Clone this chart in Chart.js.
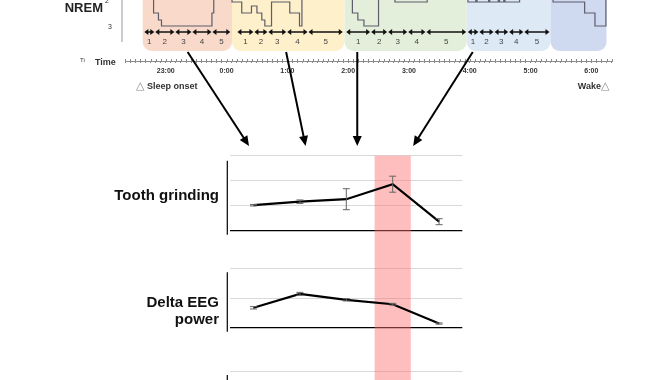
<!DOCTYPE html>
<html>
<head>
<meta charset="utf-8">
<script src="https://cdn.jsdelivr.net/npm/chart.js@4.4.1/dist/chart.umd.min.js"></script>
<style>
  html, body { margin: 0; padding: 0; background: #fff; }
  body { width: 670px; height: 380px; overflow: hidden; position: relative; }
  canvas { position: absolute; left: 0; }
</style>
</head>
<body>
<canvas id="hypno" width="670" height="150" style="top:0px"></canvas>
<canvas id="grind" width="670" height="100" style="top:150px"></canvas>
<canvas id="delta" width="670" height="110" style="top:250px"></canvas>
<canvas id="third" width="670" height="100" style="top:360px"></canvas>
<script>
// values per NREM cycle (bottom panels)
var cycles = ['1', '2', '3', '4', '5']
var grinding = [1.02, 1.16, 1.26, 1.86, 0.36]
var grindingErr = [0.03, 0.07, 0.42, 0.32, 0.12]
var deltaPower = [0.67, 1.14, 0.94, 0.79, 0.14]
var deltaPowerErr = [0.04, 0.05, 0.04, 0.03, 0.02]
var highlight = '4'

// time axis, hours (24 = 0:00)
var hourTicks = [23, 24, 25, 26, 27, 28, 29, 30]
var hourLabels = ['23:00', '0:00', '1:00', '2:00', '3:00', '4:00', '5:00', '6:00']

// hypnogram: stage changes (time in hours, stage level)
var hypnoTime = [22.62, 22.80, 22.88, 22.93, 23.76, 23.79, 24.09, 24.25, 24.41, 24.50, 24.58, 24.63,
  24.74, 25.04, 25.20, 25.24, 26.07, 26.16, 26.26, 26.50, 26.77, 27.30, 27.97, 28.10,
  28.12, 28.31, 28.33, 28.47, 28.49, 28.56, 28.58, 28.82, 29.37, 29.89, 30.06, 30.24]
var hypnoStage = [1.7, 2.48, 2.76, 3.0, 2.48, 1.7, 2.04, 2.48, 2.2, 2.48, 2.76, 3.0,
  2.04, 2.48, 3.0, 1.7, 2.48, 2.76, 3.0, 1.7, 2.04, 1.7, 2.04, 1.8,
  2.04, 1.8, 2.04, 1.8, 2.04, 1.8, 2.04, 1.7, 2.04, 2.48, 3.0, 1.7]

// sleep cycles and their five sub-periods
var cycleStart = [22.62, 24.09, 25.94, 27.95, 29.33]
var cycleEnd = [24.09, 25.94, 27.95, 29.33, 30.25]
var cycleColors = ['rgb(248,217,202)', 'rgb(254,240,203)', 'rgb(227,239,218)', 'rgb(222,233,246)', 'rgb(207,218,240)']
var segments = [
  [22.64, 22.82, 23.15, 23.43, 23.76, 24.07],
  [24.17, 24.45, 24.68, 24.99, 25.34, 25.92],
  [25.96, 26.37, 26.65, 26.98, 27.28, 27.95],
  [27.96, 28.15, 28.40, 28.64, 28.89, 29.32]
]
var pointerFrom = [23.36, 24.98, 26.15, 28.05]
var pointerTo = [24.37, 25.30, 26.15, 27.07]

var FONT = '"Liberation Sans", Arial, sans-serif'

function rounded(ctx, x, y, w, h, r) {
  ctx.beginPath()
  ctx.moveTo(x + r, y)
  ctx.arcTo(x + w, y, x + w, y + h, r)
  ctx.arcTo(x + w, y + h, x, y + h, r)
  ctx.arcTo(x, y + h, x, y, r)
  ctx.arcTo(x, y, x + w, y, r)
  ctx.closePath()
}

function dblArrow(ctx, x1, x2, yy) {
  var L = 4, W = 3
  ctx.beginPath()
  ctx.moveTo(x1 + 2, yy)
  ctx.lineTo(x2 - 2, yy)
  ctx.stroke()
  ctx.beginPath()
  ctx.moveTo(x1, yy); ctx.lineTo(x1 + L, yy - W); ctx.lineTo(x1 + L, yy + W); ctx.closePath()
  ctx.moveTo(x2, yy); ctx.lineTo(x2 - L, yy - W); ctx.lineTo(x2 - L, yy + W); ctx.closePath()
  ctx.fill()
}

function pointer(ctx, x1, y1, x2, y2) {
  var a = Math.atan2(y2 - y1, x2 - x1), L = 10, W = 4.5
  var c = Math.cos(a), s = Math.sin(a)
  ctx.beginPath()
  ctx.moveTo(x1, y1)
  ctx.lineTo(x2 - L * 0.8 * c, y2 - L * 0.8 * s)
  ctx.stroke()
  ctx.beginPath()
  ctx.moveTo(x2, y2)
  ctx.lineTo(x2 - L * c + W * s, y2 - L * s - W * c)
  ctx.lineTo(x2 - L * c - W * s, y2 - L * s + W * c)
  ctx.closePath()
  ctx.fill()
}

var hypnoDecor = {
  id: 'hypnoDecor',
  beforeDatasetsDraw: function (chart) {
    var ctx = chart.ctx, x = chart.scales.x, y = chart.scales.y
    var bottom = y.getPixelForValue(3) + 25
    ctx.save()
    cycleStart.forEach(function (s, i) {
      var l = x.getPixelForValue(s), r = x.getPixelForValue(cycleEnd[i])
      ctx.fillStyle = cycleColors[i]
      rounded(ctx, l, -20, r - l, bottom + 20, 9)
      ctx.fill()
    })
    ctx.restore()
  },
  afterDraw: function (chart) {
    var ctx = chart.ctx, x = chart.scales.x, y = chart.scales.y, area = chart.chartArea
    var y3 = y.getPixelForValue(3)
    ctx.save()

    // sub-period arrows and numbers
    ctx.strokeStyle = '#111'
    ctx.fillStyle = '#111'
    ctx.lineWidth = 1.5
    segments.forEach(function (b) {
      for (var k = 0; k < 5; k++) {
        var a1 = x.getPixelForValue(b[k]), a2 = x.getPixelForValue(b[k + 1])
        dblArrow(ctx, a1 + 0.5, a2 - 0.5, y3 + 6)
      }
    })
    ctx.fillStyle = '#444'
    ctx.font = '8px ' + FONT
    ctx.textAlign = 'center'
    ctx.textBaseline = 'middle'
    segments.forEach(function (b) {
      for (var k = 0; k < 5; k++) {
        ctx.fillText(String(k + 1), (x.getPixelForValue(b[k]) + x.getPixelForValue(b[k + 1])) / 2, y3 + 16)
      }
    })

    // stage axis stub
    ctx.strokeStyle = '#999'
    ctx.lineWidth = 1
    ctx.beginPath()
    ctx.moveTo(area.left - 3, 0)
    ctx.lineTo(area.left - 3, y3 + 16)
    ctx.stroke()
    ctx.fillStyle = '#333'
    ctx.font = '7px ' + FONT
    ctx.fillText('3', 110, y3 + 1)
    ctx.fillText('2', 107, y.getPixelForValue(2))
    ctx.font = 'bold 13px ' + FONT
    ctx.textAlign = 'right'
    ctx.fillStyle = '#222'
    ctx.fillText('NREM', 103, 8)

    // minor tick marks above the time axis
    ctx.strokeStyle = '#8a8a8a'
    ctx.beginPath()
    x.ticks.forEach(function (t) {
      var px = Math.round(x.getPixelForValue(t.value)) + 0.5
      ctx.moveTo(px, area.bottom - 2)
      ctx.lineTo(px, area.bottom)
    })
    ctx.stroke()

    ctx.fillStyle = '#333'
    ctx.textAlign = 'left'
    ctx.font = '6px ' + FONT
    ctx.fillText('Ti', 80, area.bottom - 1)
    ctx.font = 'bold 9px ' + FONT
    ctx.fillText('Time', 95, area.bottom + 2)

    // sleep onset / wake
    var ty = area.bottom + 25
    ctx.fillStyle = '#888'
    ctx.font = '11px "DejaVu Sans"'
    ctx.fillText('\u25B3', 136, ty)
    ctx.fillStyle = '#333'
    ctx.font = 'bold 9px ' + FONT
    ctx.fillText('Sleep onset', 147, ty + 1)
    ctx.textAlign = 'right'
    ctx.fillText('Wake', 601, ty + 1)
    ctx.fillStyle = '#888'
    ctx.font = '11px "DejaVu Sans"'
    ctx.textAlign = 'left'
    ctx.fillText('\u25B3', 601, ty)

    // pointers to the panels below
    ctx.strokeStyle = '#000'
    ctx.fillStyle = '#000'
    ctx.lineWidth = 2
    pointerFrom.forEach(function (h, i) {
      pointer(ctx, x.getPixelForValue(h), 52, x.getPixelForValue(pointerTo[i]), 146)
    })
    ctx.restore()
  }
}

new Chart(document.getElementById('hypno'), {
  type: 'line',
  data: {
    datasets: [{
      data: hypnoTime.map(function (t, i) { return { x: t, y: hypnoStage[i] } }),
      stepped: true,
      borderColor: '#5d5d6b',
      borderWidth: 1.2,
      pointRadius: 0,
      fill: false
    }]
  },
  options: {
    responsive: false,
    animation: false,
    devicePixelRatio: 1,
    layout: { padding: { left: 125, right: 58, top: 0, bottom: 75 } },
    plugins: { legend: { display: false }, tooltip: { enabled: false } },
    scales: {
      x: {
        type: 'linear',
        min: 22.33,
        max: 30.34,
        afterBuildTicks: function (axis) {
          var t = []
          for (var m = Math.ceil(axis.min * 12); m <= axis.max * 12; m++) t.push({ value: m / 12 })
          axis.ticks = t
        },
        afterFit: function (axis) { axis.height = 14 },
        ticks: {
          autoSkip: false,
          maxRotation: 0,
          minRotation: 0,
          padding: 4,
          color: '#333',
          font: { size: 7, weight: 'bold', family: 'Liberation Sans' },
          callback: function (v) {
            if (Math.abs(v - Math.round(v)) > 1e-6) return ''
            var i = hourTicks.indexOf(Math.round(v))
            return i >= 0 ? hourLabels[i] : ''
          }
        },
        grid: { drawOnChartArea: false, drawTicks: true, tickLength: 2, color: '#8a8a8a' },
        border: { color: '#8a8a8a', width: 1 }
      },
      y: { display: false, reverse: true, min: 1.96, max: 4.4 }
    }
  },
  plugins: [hypnoDecor]
})

// bottom panels
function panelDecor(values, errors, title, titleDy, bandFromTop, axisTop) {
  return {
    id: 'panelDecor',
    beforeDatasetsDraw: function (chart) {
      var ctx = chart.ctx, x = chart.scales.x, area = chart.chartArea
      var i = cycles.indexOf(highlight)
      var step = x.getPixelForValue(1) - x.getPixelForValue(0)
      var cx = x.getPixelForValue(i)
      ctx.save()
      ctx.fillStyle = 'rgba(255,110,110,0.45)'
      var top = bandFromTop ? 0 : area.top
      ctx.fillRect(cx - step * 0.39, top, step * 0.78, chart.height - top)
      ctx.restore()
    },
    afterDatasetsDraw: function (chart) {
      var ctx = chart.ctx, x = chart.scales.x, y = chart.scales.y, area = chart.chartArea
      ctx.save()
      ctx.strokeStyle = '#666'
      ctx.lineWidth = 1
      ctx.beginPath()
      values.forEach(function (v, i) {
        var px = x.getPixelForValue(i)
        var y1 = y.getPixelForValue(v + errors[i]), y2 = y.getPixelForValue(v - errors[i])
        ctx.moveTo(px, y1); ctx.lineTo(px, y2)
        ctx.moveTo(px - 3.5, y1); ctx.lineTo(px + 3.5, y1)
        ctx.moveTo(px - 3.5, y2); ctx.lineTo(px + 3.5, y2)
      })
      ctx.stroke()

      ctx.strokeStyle = '#000'
      ctx.lineWidth = 1.2
      ctx.beginPath()
      ctx.moveTo(area.left - 3, area.top + axisTop)
      ctx.lineTo(area.left - 3, Math.min(area.bottom + 4, chart.height))
      ctx.stroke()

      ctx.fillStyle = '#111'
      ctx.font = 'bold 15px ' + FONT
      ctx.textAlign = 'right'
      ctx.textBaseline = 'middle'
      var mid = (area.top + area.bottom) / 2
      title.forEach(function (t, k) {
        ctx.fillText(t, 219, mid + titleDy[k])
      })
      ctx.restore()
    }
  }
}

function panel(id, values, errors, yMax, pad, title, titleDy, bandFromTop, axisTop) {
  return new Chart(document.getElementById(id), {
    type: 'line',
    data: {
      labels: cycles,
      datasets: values ? [{
        data: values,
        borderColor: '#000',
        borderWidth: 2.2,
        pointRadius: 0,
        tension: 0,
        fill: false
      }] : []
    },
    options: {
      responsive: false,
      animation: false,
      devicePixelRatio: 1,
      layout: { padding: pad },
      plugins: { legend: { display: false }, tooltip: { enabled: false } },
      scales: {
        x: { type: 'category', offset: true, display: false },
        y: {
          min: 0,
          max: yMax,
          ticks: { display: false, stepSize: 1 },
          grid: {
            drawTicks: false,
            color: function (c) { return c.tick.value === 0 ? '#000' : '#d9d9d9' },
            lineWidth: function (c) { return c.tick.value === 0 ? 1.3 : 1 }
          },
          border: { display: false }
        }
      }
    },
    plugins: [panelDecor(values || [], errors || [], title, titleDy, bandFromTop, axisTop)]
  })
}

panel('grind', grinding, grindingErr, 3, { top: 5.7, bottom: 19.3, left: 230.3, right: 207.7 },
  ['Tooth grinding'], [2.5], false, 5)
panel('delta', deltaPower, deltaPowerErr, 2, { top: 18.3, bottom: 32.3, left: 230.3, right: 207.7 },
  ['Delta EEG', 'power'], [4.7, 22], true, 4)
panel('third', null, null, 3, { top: 11, bottom: 14, left: 230.3, right: 207.7 },
  [], [], true, 4)
</script>
</body>
</html>
